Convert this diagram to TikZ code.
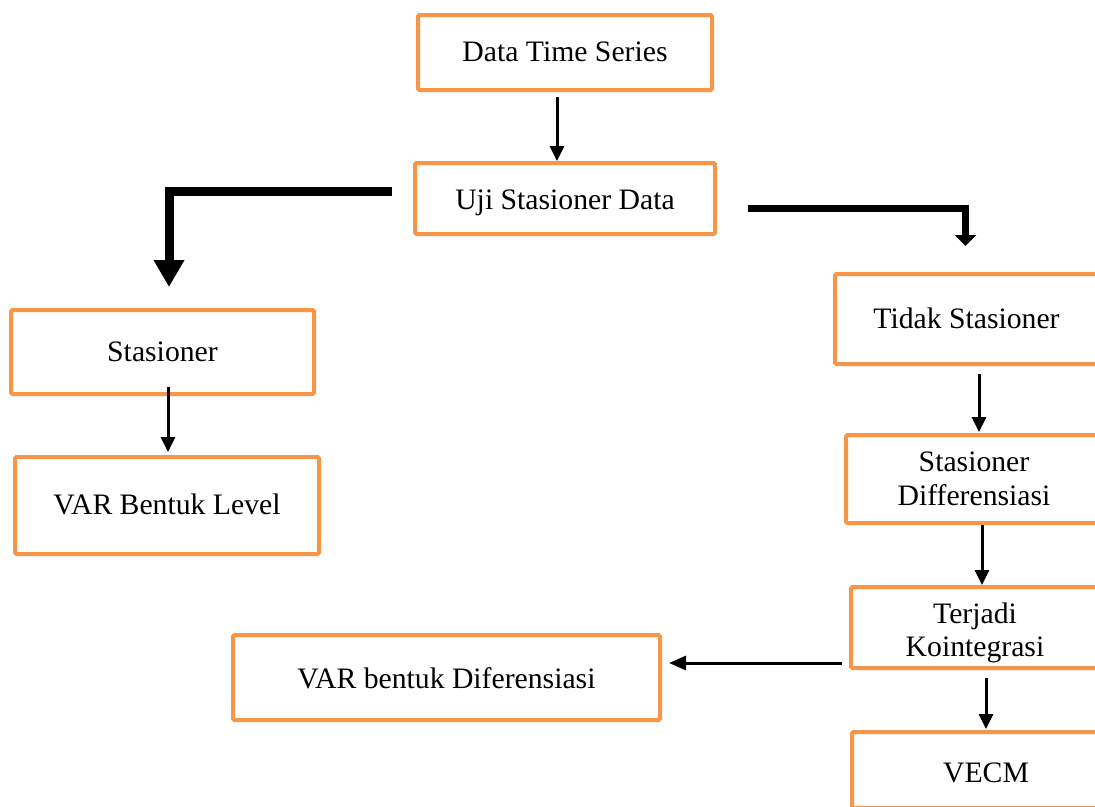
\documentclass[tikz,border=0pt]{standalone}
\usepackage{fontspec}
\setmainfont{Liberation Serif}
\usetikzlibrary{arrows.meta}
\definecolor{boxorange}{RGB}{247,150,70}
% lower a (possibly two-line) label inside its box without changing the box size
\newcommand{\boxlabel}[2]{\raisebox{-#1}[\height][\depth]{\begin{tabular}{@{}c@{}}#2\end{tabular}}}
\tikzset{
  flowbox/.style={draw=boxorange, line width=4pt, rounded corners=1.5pt,
    fill=white, align=center, inner sep=0pt,
    font=\fontsize{29.7}{33.5}\selectfont},
  thinarrow/.style={draw=black, line width=3pt,
    -{Triangle[width=14pt,length=15pt]}},
  sidearrow/.style={draw=black, line width=3pt,
    -{Triangle[width=14pt,length=17pt]}},
  boldarrow/.style={draw=black, line width=9pt, line join=miter,
    -{Triangle[width=29pt,length=27pt]}},
  mediumarrow/.style={draw=black, line width=7pt, line join=miter,
    -{Triangle[width=21pt,length=11pt]}}
}
\begin{document}
\begin{tikzpicture}[x=1pt,y=-1pt]
\useasboundingbox (0,0) rectangle (1095,806);
\clip (0,0) rectangle (1095,806);

% boxes
\node[flowbox, minimum width=294pt, minimum height=75pt] (data) at (565,52.5) {\boxlabel{2pt}{Data Time Series}};
\node[flowbox, minimum width=300pt, minimum height=71pt] (uji) at (565,198.5) {\boxlabel{4pt}{Uji Stasioner Data}};
\node[flowbox, minimum width=303pt, minimum height=84pt] (stas) at (162.5,352) {\boxlabel{3pt}{Stasioner}};
\node[flowbox, minimum width=304pt, minimum height=97pt] (level) at (167,505.5) {\boxlabel{2pt}{VAR Bentuk Level}};
\node[flowbox, minimum width=263pt, minimum height=90pt] (tidak) at (966.5,319) {\boxlabel{3pt}{Tidak Stasioner}};
\node[flowbox, minimum width=256pt, minimum height=88pt] (diff) at (974,479) {\boxlabel{3pt}{Stasioner\\Differensiasi}};
\node[flowbox, minimum width=248pt, minimum height=81pt] (koin) at (975,627.5) {\boxlabel{6pt}{Terjadi\\Kointegrasi}};
\node[flowbox, minimum width=268pt, minimum height=76pt] (vecm) at (986,770) {\boxlabel{6pt}{VECM}};
\node[flowbox, minimum width=427pt, minimum height=85pt] (vardiff) at (446.5,677.5) {\boxlabel{4pt}{VAR bentuk Diferensiasi}};

% connectors
\draw[thinarrow] ([xshift=-8pt,yshift=-5pt]data.south) -- ([xshift=-8pt]uji.north);
\draw[boldarrow] ([xshift=-21pt,yshift=7.5pt]uji.west) -| ([xshift=6.5pt,yshift=21pt]stas.north);
\draw[mediumarrow] ([xshift=31pt,yshift=-10pt]uji.east) -| ([xshift=-1pt,yshift=26pt]tidak.north);
\draw[thinarrow] ([xshift=5.5pt,yshift=9pt]stas.south) -- ([xshift=1pt,yshift=3pt]level.north);
\draw[thinarrow] ([xshift=12.5pt,yshift=-8pt]tidak.south) -- ([xshift=5pt,yshift=1pt]diff.north);
\draw[thinarrow] ([xshift=8pt]diff.south) -- ([xshift=7pt]koin.north);
\draw[thinarrow] ([xshift=11pt,yshift=-8pt]koin.south) -- ([yshift=1pt]vecm.north);
\draw[sidearrow] ([xshift=-7pt,yshift=-35.5pt]koin.west) -- ([xshift=7pt,yshift=14.5pt]vardiff.east);
\end{tikzpicture}
\end{document}
